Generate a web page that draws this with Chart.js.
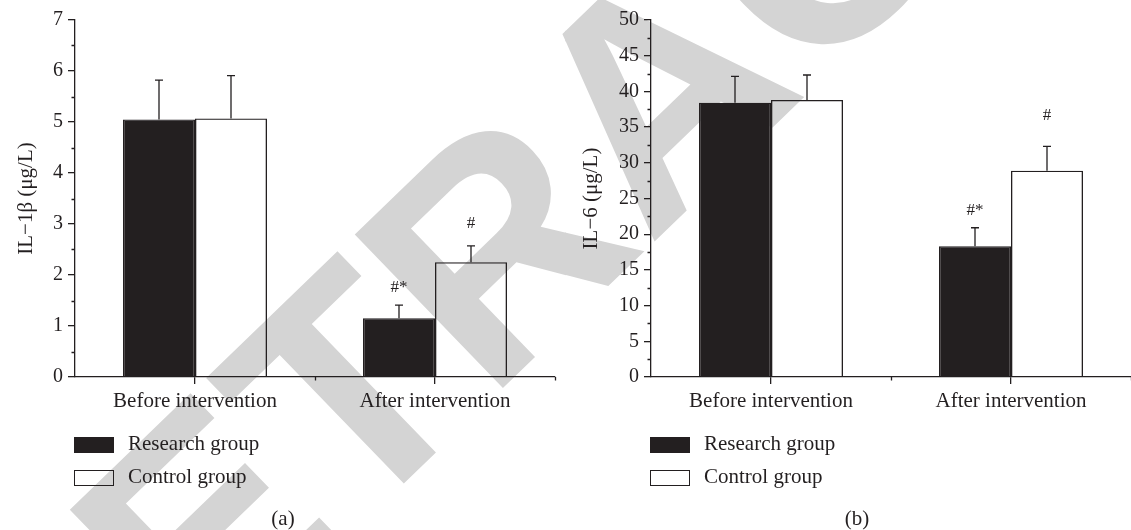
<!DOCTYPE html>
<html>
<head>
<meta charset="utf-8">
<script src="https://cdn.jsdelivr.net/npm/chart.js@4.4.1/dist/chart.umd.min.js"></script>
<style>
  html, body { margin: 0; padding: 0; background: #fff; }
  #wrap { position: relative; width: 1131px; height: 530px; overflow: hidden; }
  .panel { position: absolute; top: 0; width: 566px; height: 530px; }
  .panel canvas { position: absolute; left: 0; top: 0; }
  .lg { position: absolute; font: 21px "Liberation Serif", serif; color: #231f20; white-space: nowrap; }
  .sw { position: absolute; width: 40px; height: 16px; box-sizing: border-box; border: 1.3px solid #231f20; }
  .cap { position: absolute; font: 21px "Liberation Serif", serif; color: #231f20; transform: translate(-50%, -50%); }
</style>
</head>
<body>
<div id="wrap">
  <div class="panel" id="panelA" style="left:0"><canvas id="chartA"></canvas></div>
  <div class="panel" id="panelB" style="left:565px"><canvas id="chartB"></canvas></div>
</div>
<script>
const categories = ['Before intervention', 'After intervention'];
const groupNames = ['Research group', 'Control group'];

// (a) IL-1β, µg/L
const il1bResearch = [5.05, 1.15];
const il1bResearchSd = [0.77, 0.26];
const il1bControl = [5.07, 2.25];
const il1bControlSd = [0.84, 0.32];
const il1bMarksResearch = ['', '#*'];
const il1bMarksControl = ['', '#'];
const il1bMax = 7, il1bStep = 1;

// (b) IL-6, µg/L
const il6Research = [38.4, 18.3];
const il6ResearchSd = [3.7, 2.6];
const il6Control = [38.8, 28.9];
const il6ControlSd = [3.5, 3.4];
const il6MarksResearch = ['', '#*'];
const il6MarksControl = ['', '#'];
const il6Max = 50, il6Step = 5;

const ink = '#231f20';
const serif = '"Liberation Serif", "Times New Roman", serif';

// big grey "RETRACTED" stamp across the whole figure, drawn under the marks
const watermark = {
  id: 'watermark',
  beforeDraw(chart, args, opts) {
    const ctx = chart.ctx;
    ctx.save();
    ctx.translate(-opts.offsetX, 0);
    ctx.translate(42, 833);
    ctx.rotate(-44 * Math.PI / 180);
    ctx.font = 'bold 310px "Liberation Sans", Arial, sans-serif';
    ctx.fillStyle = '#d4d4d4';
    ctx.textBaseline = 'alphabetic';
    ctx.fillText('RETRACTED', 0, 0);
    ctx.restore();
  }
};

// SD whiskers and significance marks on top of the bars
const errorBars = {
  id: 'errorBars',
  afterDatasetsDraw(chart, args, opts) {
    const ctx = chart.ctx;
    const y = chart.scales.y;
    ctx.save();
    ctx.strokeStyle = ink;
    ctx.lineWidth = 1.3;
    ctx.fillStyle = ink;
    ctx.font = '17px ' + serif;
    ctx.textAlign = 'center';
    ctx.textBaseline = 'middle';
    chart.data.datasets.forEach((ds, i) => {
      chart.getDatasetMeta(i).data.forEach((bar, j) => {
        const top = y.getPixelForValue(ds.data[j] + ds.sd[j]);
        ctx.beginPath();
        ctx.moveTo(bar.x, bar.y);
        ctx.lineTo(bar.x, top);
        ctx.moveTo(bar.x - 4, top);
        ctx.lineTo(bar.x + 4, top);
        ctx.stroke();
        if (ds.marks[j]) ctx.fillText(ds.marks[j], bar.x, top - opts.gaps[i]);
      });
    });
    ctx.restore();
  }
};

// short minor ticks: half steps on y, category boundaries on x
const minorTicks = {
  id: 'minorTicks',
  afterDraw(chart, args, opts) {
    const ctx = chart.ctx;
    const { x, y } = chart.scales;
    const area = chart.chartArea;
    ctx.save();
    ctx.strokeStyle = ink;
    ctx.lineWidth = 1.3;
    ctx.beginPath();
    for (let v = opts.step / 2; v < y.max; v += opts.step) {
      const py = Math.round(y.getPixelForValue(v)) + 0.5;
      ctx.moveTo(area.left - 3.5, py);
      ctx.lineTo(area.left, py);
    }
    const half = (x.getPixelForValue(1) - x.getPixelForValue(0)) / 2;
    for (let i = 0; i < categories.length; i++) {
      const px = Math.round(x.getPixelForValue(i) + half) + 0.5;
      ctx.moveTo(px, area.bottom);
      ctx.lineTo(px, area.bottom + 3.5);
    }
    ctx.stroke();
    ctx.restore();
  }
};

function makeChart(id, offsetX, yWidth, padRight, research, researchSd, researchMarks,
                   control, controlSd, controlMarks, yMax, yStep, yTitle, gaps) {
  return new Chart(document.getElementById(id), {
    type: 'bar',
    data: {
      labels: categories,
      datasets: [
        {
          label: groupNames[0],
          data: research,
          sd: researchSd,
          marks: researchMarks,
          backgroundColor: ink,
          borderColor: ink,
          borderWidth: 1.3
        },
        {
          label: groupNames[1],
          data: control,
          sd: controlSd,
          marks: controlMarks,
          backgroundColor: 'rgba(255,255,255,0)',
          borderColor: ink,
          borderWidth: 1.3
        }
      ]
    },
    options: {
      responsive: false,
      animation: false,
      devicePixelRatio: 1,
      layout: { padding: { top: 20, right: padRight, bottom: 0, left: 0 } },
      categoryPercentage: 0.6,
      barPercentage: 1.0,
      plugins: {
        legend: { display: false },
        tooltip: { enabled: false },
        watermark: { offsetX: offsetX },
        errorBars: { gaps: gaps },
        minorTicks: { step: yStep }
      },
      scales: {
        x: {
          offset: true,
          afterFit(scale) { scale.height = 153; },
          border: { color: ink, width: 1.3 },
          grid: { drawOnChartArea: false, drawTicks: true, tickLength: 7, offset: false, color: ink, lineWidth: 1.3 },
          ticks: { color: ink, padding: 5, font: { family: serif, size: 21 }, maxRotation: 0 }
        },
        y: {
          min: 0,
          max: yMax,
          afterFit(scale) { scale.width = yWidth; },
          border: { color: ink, width: 1.3 },
          grid: { drawOnChartArea: false, drawTicks: true, tickLength: 7, color: ink, lineWidth: 1.3 },
          ticks: { stepSize: yStep, color: ink, padding: 5, font: { family: serif, size: 20 } },
          title: {
            display: true,
            text: yTitle,
            color: ink,
            padding: { top: 14, bottom: 0 },
            font: { family: serif, size: 21 }
          }
        }
      }
    },
    plugins: [watermark, errorBars, minorTicks]
  });
}

function buildLegend(panelId, chart, left, caption, captionX) {
  const panel = document.getElementById(panelId);
  const rows = [437, 470];
  chart.data.datasets.forEach((ds, i) => {
    const sw = document.createElement('div');
    sw.className = 'sw';
    sw.style.left = left + 'px';
    sw.style.top = rows[i] + 'px';
    sw.style.background = ds.backgroundColor;
    panel.appendChild(sw);
    const t = document.createElement('div');
    t.className = 'lg';
    t.style.left = (left + 54) + 'px';
    t.style.top = (rows[i] - 6) + 'px';
    t.textContent = ds.label;
    panel.appendChild(t);
  });
  const c = document.createElement('div');
  c.className = 'cap';
  c.style.left = captionX + 'px';
  c.style.top = '518px';
  c.textContent = caption;
  panel.appendChild(c);
}

const canvasA = document.getElementById('chartA');
const canvasB = document.getElementById('chartB');
canvasA.width = 566; canvasA.height = 530;
canvasB.width = 566; canvasB.height = 530;

const chartA = makeChart('chartA', 0, 75, 11,
  il1bResearch, il1bResearchSd, il1bMarksResearch,
  il1bControl, il1bControlSd, il1bMarksControl,
  il1bMax, il1bStep, 'IL\u22121\u03B2 (\u03BCg/L)', [17.5, 22]);

const chartB = makeChart('chartB', 565, 86, 0,
  il6Research, il6ResearchSd, il6MarksResearch,
  il6Control, il6ControlSd, il6MarksControl,
  il6Max, il6Step, 'IL\u22126 (\u03BCg/L)', [17.5, 31]);

buildLegend('panelA', chartA, 74, '(a)', 283);
buildLegend('panelB', chartB, 85, '(b)', 292);
</script>
</body>
</html>
